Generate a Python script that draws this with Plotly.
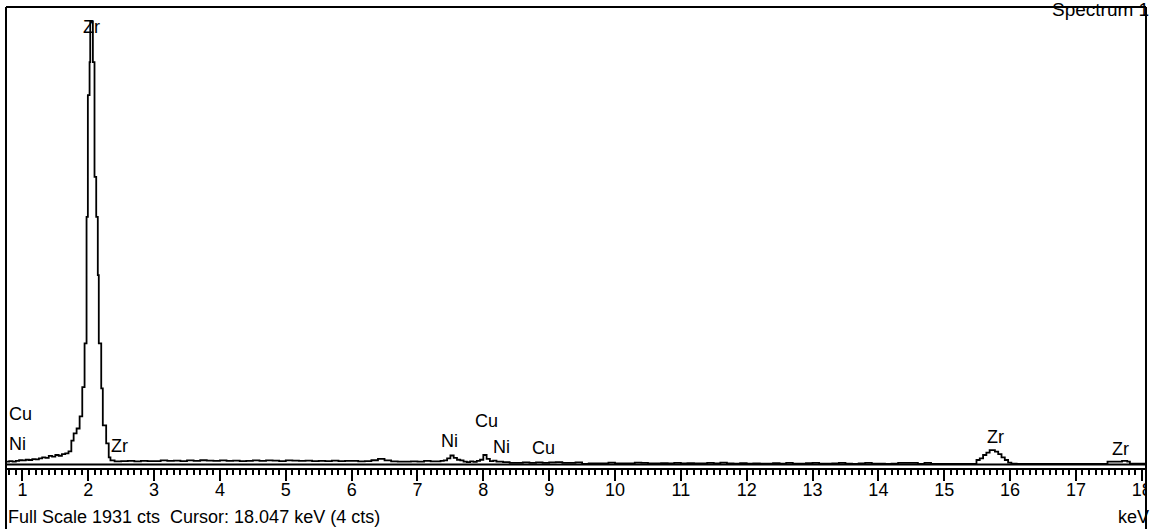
import plotly.graph_objects as go

# ---------------- data (keV, counts) ----------------
low_energy = [0.75, 0.80, 0.85, 0.90, 0.95, 1.00, 1.05, 1.10, 1.15, 1.20,
              1.25, 1.30, 1.35, 1.40, 1.45, 1.50, 1.55, 1.60, 1.65, 1.70]
low_counts = [12, 14, 12, 15, 18, 17, 20, 19, 23, 22,
              26, 30, 28, 36, 33, 40, 37, 44, 47, 55]

zr_l_energy = [1.743, 1.778, 1.823, 1.869, 1.909, 1.944, 1.974, 1.994, 2.020, 2.030,
               2.070, 2.095, 2.121, 2.145, 2.160, 2.197, 2.221, 2.272, 2.311, 2.337]
zr_l_counts = [101, 131, 152, 203, 327, 511, 1045, 1559, 1698, 1870,
               1698, 1214, 1045, 799, 511, 321, 165, 89, 30, 17]

mid_energy = [2.4, 2.5, 2.6, 2.7, 2.8, 2.9, 3.0, 3.1, 3.2, 3.3,
              3.4, 3.5, 3.6, 3.7, 3.8, 3.9, 4.0, 4.1, 4.2, 4.3,
              4.4, 4.5, 4.6, 4.7, 4.8, 4.9, 5.0, 5.1, 5.2, 5.3,
              5.4, 5.5, 5.6, 5.7, 5.8, 5.9, 6.0, 6.1, 6.2, 6.3,
              6.4, 6.5, 6.6, 6.7, 6.8, 6.9, 7.0, 7.1, 7.2, 7.3]
mid_counts = [13, 14, 15, 13, 15, 14, 14, 17, 15, 16,
              14, 17, 15, 18, 16, 15, 17, 15, 16, 14,
              15, 17, 15, 17, 16, 14, 17, 16, 15, 16,
              14, 15, 14, 16, 14, 15, 15, 13, 14, 18,
              24, 17, 13, 12, 12, 13, 12, 15, 13, 13]

ni_cu_energy = [7.35, 7.40, 7.45, 7.50, 7.55, 7.60, 7.65, 7.70, 7.75, 7.80,
                7.85, 7.90, 7.95, 8.00, 8.05, 8.10, 8.15, 8.20, 8.25, 8.30]
ni_cu_counts = [15, 17, 26, 38, 28, 20, 17, 12, 10, 13,
                11, 15, 20, 40, 24, 14, 16, 12, 12, 10]

cu_tail_energy = [8.4, 8.5, 8.6, 8.7, 8.8, 8.9, 9.0, 9.1, 9.2, 9.3, 9.4]
cu_tail_counts = [7, 7, 9, 7, 9, 7, 9, 10, 7, 7, 9]

high_energy = [9.5, 9.6, 9.7, 9.8, 9.9, 10.0, 10.1, 10.2, 10.3, 10.4,
               10.5, 10.6, 10.7, 10.8, 10.9, 11.0, 11.1, 11.2, 11.3, 11.4,
               11.5, 11.6, 11.7, 11.8, 11.9, 12.0, 12.1, 12.2, 12.3, 12.4,
               12.5, 12.6, 12.7, 12.8, 12.9, 13.0, 13.1, 13.2, 13.3, 13.4,
               13.5, 13.6, 13.7, 13.8, 13.9, 14.0, 14.1, 14.2, 14.3, 14.4,
               14.5, 14.6, 14.7, 14.8, 14.9, 15.0, 15.1, 15.2, 15.3, 15.4]
high_counts = [3, 5, 5, 5, 8, 5, 5, 5, 8, 7,
               5, 5, 6, 5, 7, 5, 6, 5, 5, 7,
               5, 8, 5, 4, 6, 4, 5, 4, 4, 6,
               4, 7, 4, 4, 6, 7, 4, 4, 5, 7,
               4, 3, 5, 7, 4, 4, 3, 4, 7, 7,
               7, 3, 7, 3, 3, 3, 3, 3, 3, 3]

zr_k_energy = [15.49, 15.54, 15.59, 15.64, 15.69, 15.77, 15.82, 15.87, 15.92, 15.97, 16.02]
zr_k_counts = [19, 26, 40, 50, 61, 54, 44, 30, 19, 8, 4]

end_energy = [16.1, 16.2, 16.4, 16.6, 16.8, 17.0, 17.2, 17.4, 17.48, 17.70, 17.78, 17.82, 17.9, 18.05]
end_counts = [3, 3, 3, 3, 3, 3, 3, 3, 12, 15, 12, 4, 4, 4]

energy = (low_energy + zr_l_energy + mid_energy + ni_cu_energy + cu_tail_energy
          + high_energy + zr_k_energy + end_energy)
counts = (low_counts + zr_l_counts + mid_counts + ni_cu_counts + cu_tail_counts
          + high_counts + zr_k_counts + end_counts)

tick_values = list(range(1, 19))
tick_labels = [str(v) for v in tick_values]

full_scale = 1931
# element labels: (text, energy, counts-height, anchor)
peak_labels = [("Zr", 2.042, 1845, "center"),
               ("Cu", 0.76, 213, "left"),
               ("Ni", 0.76, 86, "left"),
               ("Zr", 2.473, 78, "center"),
               ("Ni", 7.489, 99, "center"),
               ("Cu", 8.048, 184, "center"),
               ("Ni", 8.274, 74, "center"),
               ("Cu", 8.909, 70, "center"),
               ("Zr", 15.783, 116, "center"),
               ("Zr", 17.671, 65, "center")]

FONT = "Arial, 'Liberation Sans', sans-serif"

fig = go.Figure()
fig.add_trace(go.Scatter(x=energy, y=counts, mode="lines", line_shape="hv",
                         line=dict(color="black", width=1.8), hoverinfo="skip"))

W, H = 1158, 529
L, R, T, B = 6, 1152, 7, 468

def py(p):  # pixel y -> paper y
    return (B - p) / (B - T)

def px(p):  # pixel x -> paper x
    return (p - L) / (R - L)

annotations = []
for txt, e, c, anc in peak_labels:
    annotations.append(dict(text=txt, x=e, y=c, xref="x", yref="y", showarrow=False,
                            xanchor=anc, yanchor="middle",
                            font=dict(family=FONT, size=18, color="black")))
annotations.append(dict(text="Spectrum 1", x=px(1157), y=py(10), xref="paper", yref="paper",
                        showarrow=False, xanchor="right", yanchor="middle",
                        font=dict(family=FONT, size=19, color="black")))
annotations.append(dict(text="Full Scale 1931 cts\u00a0\u00a0Cursor: 18.047 keV (4 cts)",
                        x=px(6), y=py(517), xref="paper", yref="paper",
                        showarrow=False, xanchor="left", yanchor="middle",
                        font=dict(family=FONT, size=18, color="black")))
annotations.append(dict(text="keV", x=px(1157), y=py(517), xref="paper", yref="paper",
                        showarrow=False, xanchor="right", yanchor="middle",
                        font=dict(family=FONT, size=18, color="black")))

shapes = [
    # zero-count line (upper of the double axis line)
    dict(type="line", xref="paper", yref="y", x0=0, x1=1, y0=0, y1=0,
         line=dict(color="black", width=2), layer="above"),
    # white strip clipping right of frame
    dict(type="rect", xref="paper", yref="paper", x0=px(1153), x1=px(1170), y0=py(540), y1=py(-5),
         fillcolor="white", line=dict(width=0), layer="above"),
    # frame: top, left, right
    dict(type="line", xref="paper", yref="paper", x0=0, x1=1, y0=1, y1=1,
         line=dict(color="black", width=2), layer="above"),
    dict(type="line", xref="paper", yref="paper", x0=0, x1=0, y0=1, y1=py(540),
         line=dict(color="black", width=2), layer="above"),
    dict(type="line", xref="paper", yref="paper", x0=1, x1=1, y0=1, y1=py(540),
         line=dict(color="black", width=2), layer="above"),
]

x_lo = 1 + (L - 22.5) / 66.19
x_hi = 1 + (R - 22.5) / 66.19
cts_per_px = full_scale / (464.5 - T)
y_lo = -(B - 464.5) * cts_per_px

fig.update_layout(
    width=W, height=H,
    margin=dict(l=L, r=W - R, t=T, b=H - B, pad=0),
    paper_bgcolor="white", plot_bgcolor="white",
    showlegend=False,
    annotations=annotations,
    shapes=shapes,
    xaxis=dict(range=[x_lo, x_hi], tickmode="array", tickvals=tick_values, ticktext=tick_labels,
               ticks="outside", ticklen=11, tickwidth=2, tickcolor="black",
               ticklabelstandoff=-7,
               showline=True, linecolor="black", linewidth=2,
               showgrid=False, zeroline=False,
               tickfont=dict(family=FONT, size=18, color="black"),
               minor=dict(tickmode="linear", tick0=0, dtick=0.1, ticks="outside",
                          ticklen=5, tickwidth=1.5, tickcolor="black", showgrid=False)),
    yaxis=dict(range=[y_lo, full_scale], visible=False, showgrid=False, zeroline=False),
)

fig.write_html("out.html", config={"displayModeBar": False},
               post_script="document.body.style.margin='0';document.body.style.overflow='hidden';")
